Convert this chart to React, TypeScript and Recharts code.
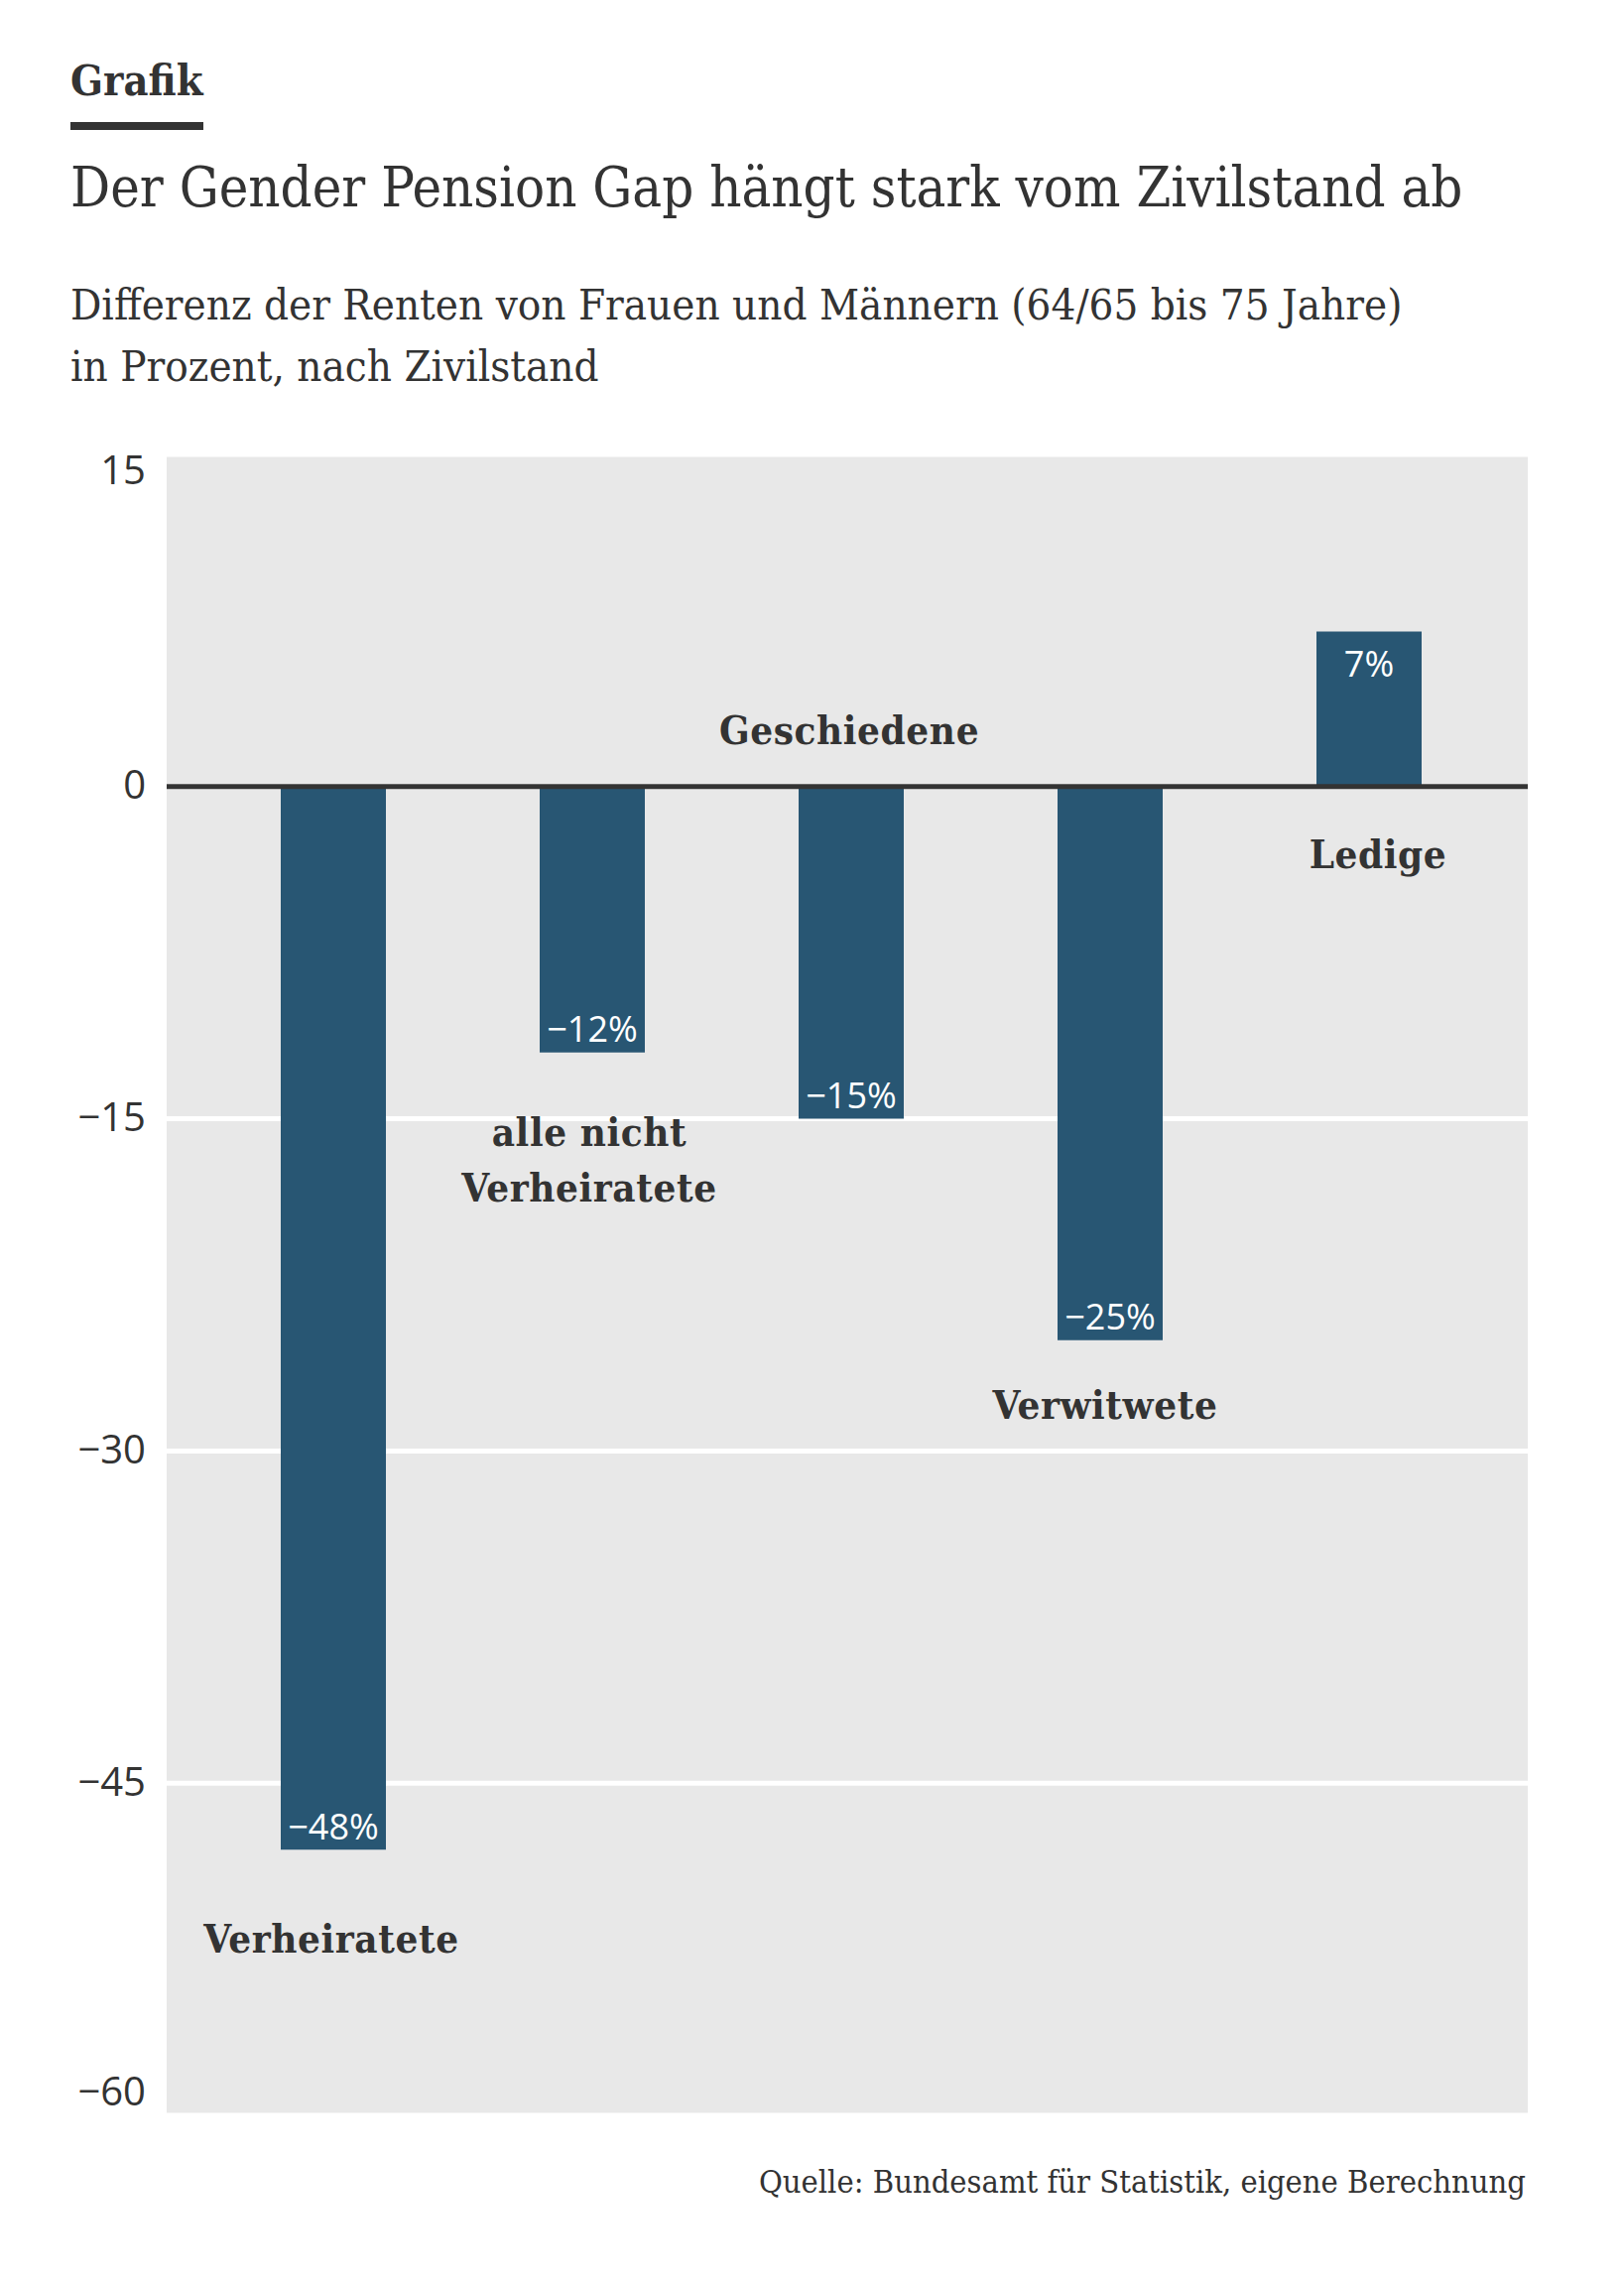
import React from "react";
import { BarChart, Bar, XAxis, YAxis, CartesianGrid, ReferenceLine, LabelList } from "recharts";

// Gender Pension Gap nach Zivilstand, in Prozent
const categories = ["Verheiratete", "alle nicht Verheiratete", "Geschiedene", "Verwitwete", "Ledige"];
const gapValues = [-48, -12, -15, -25, 7];
const yTicks = [15, 0, -15, -30, -45, -60];

const chartData = categories.map((name, i) => ({ name, value: gapValues[i] }));

const SERIF = '"DejaVu Serif Condensed", "DejaVu Serif", serif';
const SANS = '"Open Sans", "Noto Sans", sans-serif';
const TEXT = "#333333";
const BAR = "#285673";

// where each category name sits: relative to the bar end or the zero line
const namePlacement: Record<string, { from: "end" | "zero"; dx: number; dy: number[] }> = {
  "Verheiratete": { from: "end", dx: -2, dy: [89] },
  "alle nicht Verheiratete": { from: "end", dx: -3, dy: [80, 136] },
  "Geschiedene": { from: "zero", dx: -2, dy: [-57] },
  "Verwitwete": { from: "end", dx: -5, dy: [65] },
  "Ledige": { from: "zero", dx: 9, dy: [68] },
};
const nameLines: Record<string, string[]> = {
  "alle nicht Verheiratete": ["alle nicht", "Verheiratete"],
};

const fmt = (v: number) => (v < 0 ? "\u2212" + Math.abs(v) : String(v));

function YTick(props: any) {
  const { x, y, payload, index } = props;
  let dy = -3;
  if (index === 0) dy = 14;
  if (index === yTicks.length - 1) dy = -26;
  return (
    <text x={x - 13} y={y + dy} textAnchor="end" dominantBaseline="central" fill={TEXT}
      style={{ fontFamily: SANS, fontSize: 40 }}>
      {fmt(payload.value)}
    </text>
  );
}

function ValueLabel(props: any) {
  const { x, y, width, height, value } = props;
  const top = Math.min(y, y + height);
  const bottom = Math.max(y, y + height);
  const cy = value < 0 ? bottom - 24 : top + 32;
  return (
    <text x={x + width / 2} y={cy} textAnchor="middle" dominantBaseline="central" fill="#ffffff"
      style={{ fontFamily: SANS, fontSize: 36 }}>
      {fmt(value) + "%"}
    </text>
  );
}

function NameLabel(props: any) {
  const { x, y, width, height, value, index } = props;
  const place = namePlacement[value];
  const v = gapValues[index];
  const zeroY = v < 0 ? Math.min(y, y + height) : Math.max(y, y + height);
  const endY = v < 0 ? Math.max(y, y + height) : Math.min(y, y + height);
  const baseY = place.from === "end" ? endY : zeroY;
  const lines = nameLines[value] || [value];
  return (
    <g>
      {lines.map((line, i) => (
        <text key={i} x={x + width / 2 + place.dx} y={baseY + place.dy[i]} textAnchor="middle"
          dominantBaseline="central" fill={TEXT}
          style={{ fontFamily: SERIF, fontSize: 40, fontWeight: 700, fontStretch: "condensed", letterSpacing: 0.6 }}>
          {line}
        </text>
      ))}
    </g>
  );
}

export default function App() {
  return (
    <div style={{ position: "absolute", left: 0, top: 0, width: 1637, height: 2304, background: "#fff", color: TEXT }}>
      <div style={{ position: "absolute", left: 71, top: 51, fontFamily: SERIF, fontWeight: 700, fontSize: 43, fontStretch: "condensed", lineHeight: "60px" }}>
        Grafik
      </div>
      <div style={{ position: "absolute", left: 71, top: 123, width: 134, height: 8, background: TEXT }} />
      <div style={{ position: "absolute", left: 71, top: 151, fontFamily: SERIF, fontWeight: 300, fontSize: 55.7, fontStretch: "condensed", lineHeight: "76px", whiteSpace: "nowrap" }}>
        Der Gender Pension Gap hängt stark vom Zivilstand ab
      </div>
      <div style={{ position: "absolute", left: 71, top: 276, fontFamily: SERIF, fontWeight: 300, fontSize: 43.5, fontStretch: "condensed", lineHeight: "62px", whiteSpace: "nowrap" }}>
        Differenz der Renten von Frauen und Männern (64/65 bis 75 Jahre)
        <br />
        in Prozent, nach Zivilstand
      </div>

      <div style={{ position: "absolute", left: 0, top: 0 }}>
        <BarChart width={1637} height={2304} data={chartData}
          margin={{ top: 458, right: 97, bottom: 172, left: 0 }}>
          <CartesianGrid vertical={false} horizontal={true} stroke="#ffffff" strokeWidth={5}
            fill="#e8e8e8" fillOpacity={1} />
          <XAxis dataKey="name" hide padding={{ left: 37, right: 30 }} />
          <YAxis type="number" domain={[-60, 15]} ticks={yTicks} interval={0} width={168}
            axisLine={false} tickLine={false} tick={<YTick />} />
          <ReferenceLine y={0} stroke={TEXT} strokeWidth={5} />
          <Bar dataKey="value" fill={BAR} barSize={106} isAnimationActive={false}>
            <LabelList dataKey="value" content={<ValueLabel />} />
            <LabelList dataKey="name" content={<NameLabel />} />
          </Bar>
        </BarChart>
      </div>

      <div style={{ position: "absolute", right: 1637 - 1538, top: 2176, fontFamily: SERIF, fontWeight: 300, fontSize: 32.4, fontStretch: "condensed", lineHeight: "46px", whiteSpace: "nowrap" }}>
        Quelle: Bundesamt für Statistik, eigene Berechnung
      </div>
    </div>
  );
}
